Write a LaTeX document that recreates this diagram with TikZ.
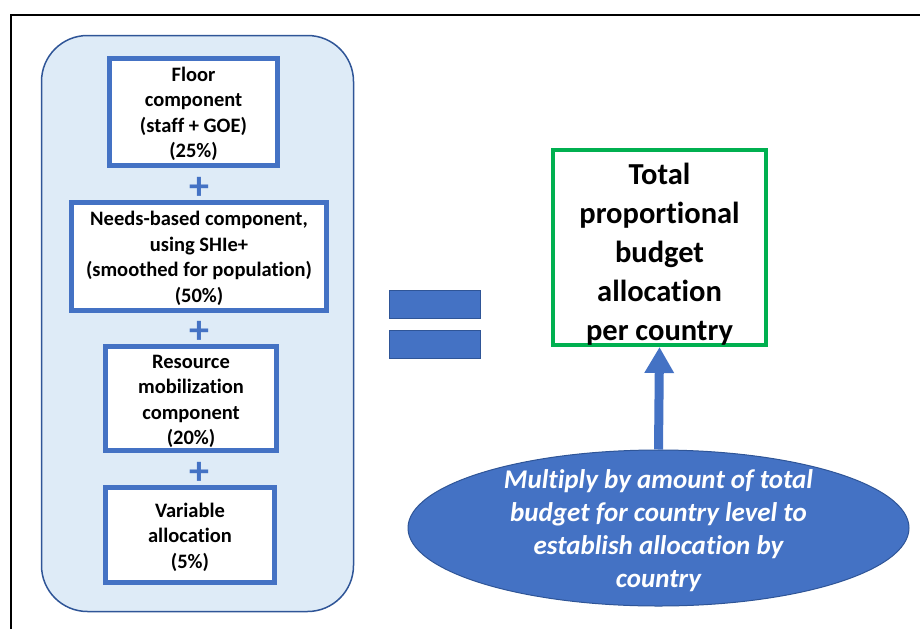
\documentclass[tikz,border=0pt]{standalone}
\usepackage{fontspec}
\setmainfont{Carlito}[Ligatures=NoCommon]
\usetikzlibrary{shapes.geometric,arrows.meta}
\definecolor{mblue}{HTML}{4472C4}
\definecolor{dblue}{HTML}{2F5597}
\definecolor{lblue}{HTML}{DEEBF7}
\definecolor{mgreen}{HTML}{00B050}
\tikzset{
  compbox/.style={draw=mblue, line width=5pt, fill=white, inner sep=0pt},
  comptext/.style={inner sep=0pt, align=center, font=\fontsize{20.5}{25.5}\selectfont\bfseries},
  plussign/.style={text=mblue, inner sep=0pt, font=\fontsize{40}{40}\selectfont\bfseries},
  eqbar/.style={draw=dblue, line width=0.8pt, fill=mblue, minimum width=91pt, minimum height=28pt, inner sep=0pt},
}
\begin{document}
\begin{tikzpicture}[x=1pt,y=-1pt]
\useasboundingbox (0,0) rectangle (920,629);
\coordinate (fbl) at (11,629);
\coordinate (ftl) at (11,15);
\coordinate (ftr) at (920,15);
\draw[line width=1.2pt] (fbl) -- (ftl) -- (ftr);
\node[draw=dblue, line width=1.5pt, fill=lblue, rounded corners=46pt, minimum width=312pt, minimum height=576pt, inner sep=0pt] (container) at (197.5,323.5) {};
\node[compbox, minimum width=168pt, minimum height=107pt] (floor) at (193.5,112) {};
\node[comptext] (floortext) at (193.5,114) {Floor\\component\\(staff + GOE)\\(25\%)};
\node[plussign] (p1) at (199,188) {+};
\node[compbox, minimum width=255pt, minimum height=108pt] (needs) at (199,256.5) {};
\node[comptext] (needstext) at (199,258.5) {Needs-based component,\\using SHIe+\\(smoothed for population)\\(50\%)};
\node[plussign] (p2) at (199,332) {+};
\node[compbox, minimum width=171pt, minimum height=104pt] (resource) at (191,398.5) {};
\node[comptext] (resourcetext) at (191,401.5) {Resource\\mobilization\\component\\(20\%)};
\node[plussign] (p3) at (199,473) {+};
\node[compbox, minimum width=169pt, minimum height=95pt] (variable) at (190,535) {};
\node[comptext] (variabletext) at (190,537) {Variable\\allocation\\(5\%)};
\node[eqbar] (eqtop) at (435,304) {};
\node[eqbar] (eqbot) at (435,344.5) {};
\node[draw=mgreen, line width=4pt, fill=white, minimum width=213pt, minimum height=195pt, inner sep=0pt] (total) at (659.5,247.5) {};
\node[inner sep=0pt, align=center, font=\fontsize{30.5}{39}\selectfont\bfseries] (totaltext) at (659.5,254) {Total\\proportional\\budget\\allocation\\per country};
\node[ellipse, draw=dblue, line width=1pt, fill=mblue, minimum width=501pt, minimum height=156pt, inner sep=0pt] (multiply) at (658.5,528) {};
\node[inner sep=0pt, align=center, text=white, font=\fontsize{27}{33}\selectfont\bfseries\itshape] (multiplytext) at (658.5,531) {Multiply by amount of total\\budget for country level to\\establish allocation by\\country};
\draw[mblue, line width=9pt, -{Triangle[width=28pt,length=26pt]}] (multiply.north) -- (total.south);
\end{tikzpicture}
\end{document}
